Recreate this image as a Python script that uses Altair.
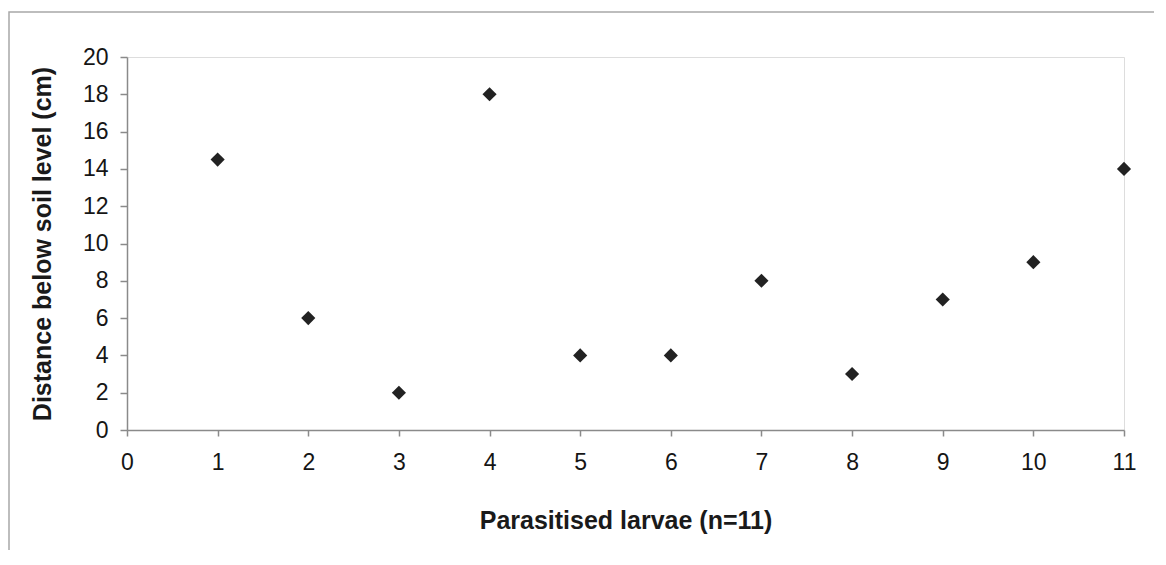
import altair as alt
import pandas as pd

larvae = [1, 2, 3, 4, 5, 6, 7, 8, 9, 10, 11]
depth_cm = [14.5, 6, 2, 18, 4, 4, 8, 3, 7, 9, 14]
x_ticks = list(range(0, 12))
y_ticks = list(range(0, 21, 2))

df = pd.DataFrame({"larva": larvae, "depth": depth_cm})

FONT = "Liberation Sans"

points = alt.Chart(df).mark_point(
    shape="diamond", filled=True, color="#222222", size=200, opacity=1
).encode(
    x=alt.X("larva:Q",
            scale=alt.Scale(domain=[0, 11], nice=False, zero=False),
            axis=alt.Axis(values=x_ticks, title="Parasitised larvae (n=11)",
                          grid=False, domainColor="#8a8a8a", tickColor="#8a8a8a",
                          domainWidth=1.5, tickWidth=1.5, tickSize=6,
                          labelFont=FONT, labelFontSize=23, labelColor="#151515",
                          labelPadding=15, titleFont=FONT, titleFontSize=25,
                          titleFontWeight="bold", titleColor="#1a1a1a",
                          titlePadding=34, labelFlush=False)),
    y=alt.Y("depth:Q",
            scale=alt.Scale(domain=[0, 20], nice=False),
            axis=alt.Axis(values=y_ticks, title="Distance below soil level (cm)",
                          grid=False, domainColor="#8a8a8a", tickColor="#8a8a8a",
                          domainWidth=1.5, tickWidth=1.5, tickSize=7,
                          labelFont=FONT, labelFontSize=23, labelColor="#151515",
                          labelPadding=12, titleFont=FONT, titleFontSize=25,
                          titleFontWeight="bold", titleColor="#1a1a1a",
                          titlePadding=27, labelFlush=False)),
)

frame = alt.Chart(pd.DataFrame({"k": [0]})).mark_rect(
    fill=None, stroke="#a8a8a8", strokeWidth=1.5, clip=False
).encode(
    x=alt.value(-118), x2=alt.value(1032),
    y=alt.value(-45), y2=alt.value(520),
)

chart = alt.layer(frame, points).properties(
    width=997, height=373,
    autosize=alt.AutoSizeParams(type="none"),
    padding={"left": 119, "top": 49, "right": 30, "bottom": 120},
).configure_view(stroke=None).configure(background="white")

chart.save("out.html", embed_options={"renderer": "svg", "actions": False})
